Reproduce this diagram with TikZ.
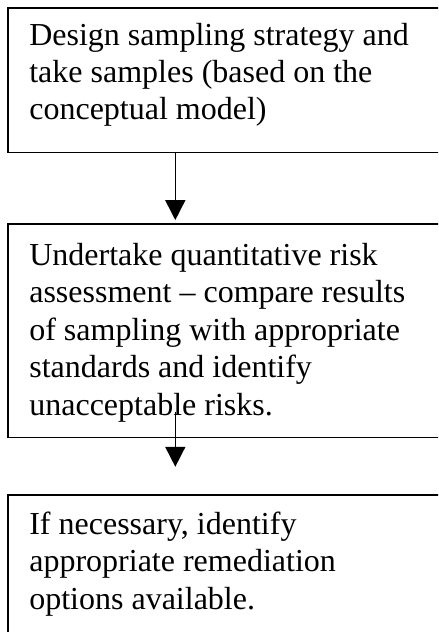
\documentclass[tikz,border=0pt]{standalone}
\usepackage{fontspec}
\setmainfont{Liberation Serif}
\usetikzlibrary{arrows.meta}
\tikzset{box/.style = {draw, line width=0.6pt, anchor=north west,
                       minimum width=177pt, inner sep=0pt}}
\tikzset{txt/.style = {anchor=base west, align=left, inner sep=0pt,
                       font=\fontsize{12pt}{14pt}\selectfont}}
\tikzset{flow/.style = {line width=0.6pt,
                        -{Triangle[width=7.5pt, length=7.5pt]}}}

\begin{document}
\begin{tikzpicture}[x=0.375pt, y=-0.375pt]
      \useasboundingbox (0, 0) rectangle (438, 632);
      \clip (0, 0) rectangle (438, 632);

      \node [box, minimum height=54.1pt] (design) at (7.3, 7.5) {};
      \node [box, minimum height=80pt] (risk) at (7.3, 223.3) {};
      \node [box, minimum height=75pt] (remed) at (7.3, 494) {};

      % text nodes sit on the baseline of their last line
      \node [txt] (designtext) at (28.8, 120) {Design sampling strategy and\\
        take samples (based on the\\ conceptual model)};
      \node [txt] (risktext) at (28.8, 415) {Undertake quantitative risk\\
        assessment – compare results\\ of sampling with appropriate\\
        standards and identify\\ unacceptable risks.};
      \node [txt] (remedtext) at (28.8, 609) {If necessary, identify\\
        appropriate remediation\\ options available.};

      \coordinate (axis) at (175.3, 0);
      \coordinate (riskout) at (175.3, 412);

      \draw [flow, shorten >=1.2pt] (design.south -| axis) -- (risk.north -| axis);
      \draw [flow, shorten >=10.2pt] (riskout) -- (remed.north -| axis);
\end{tikzpicture}
\end{document}
